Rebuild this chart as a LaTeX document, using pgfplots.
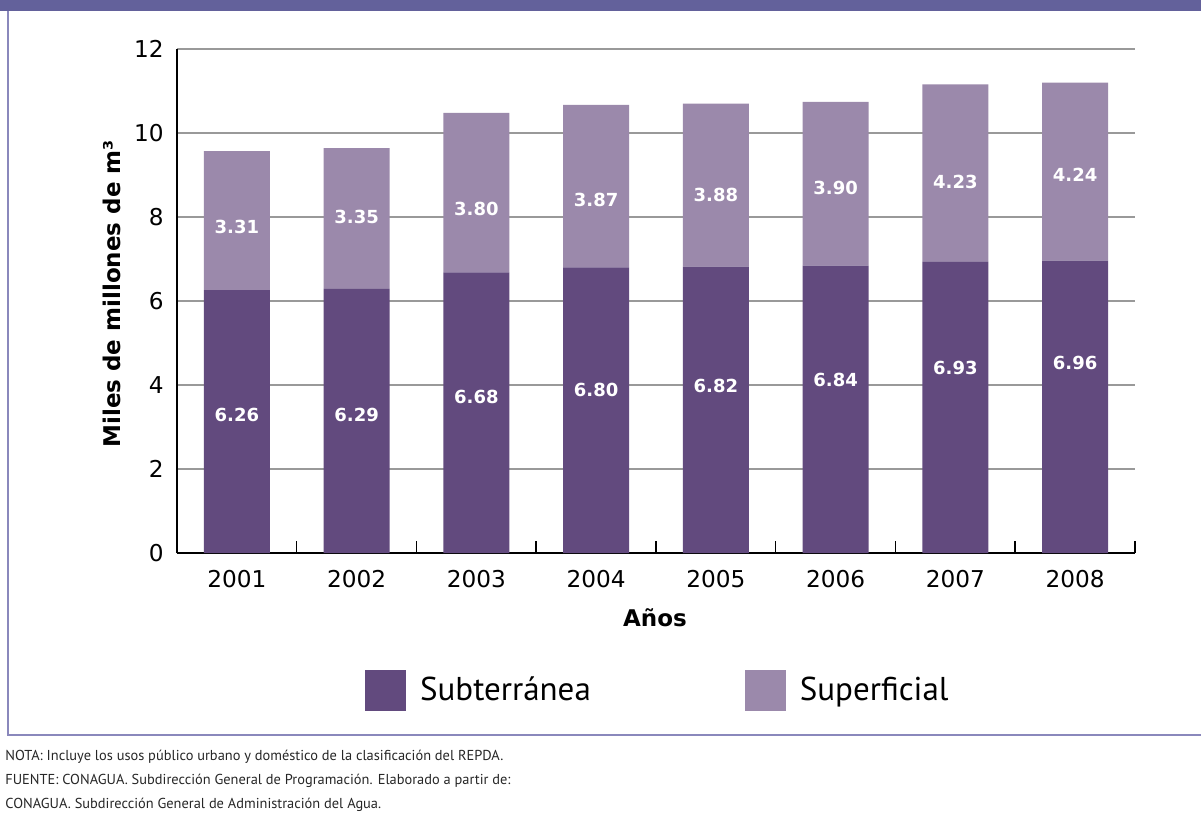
\documentclass[border=0pt]{standalone}
\usepackage{fontspec}
\setmainfont{DejaVu Sans}
\newfontfamily\ptsans{PT Sans}
\usepackage{pgfplots}
\pgfplotsset{compat=1.18}
\definecolor{dark}{HTML}{624A7E}
\definecolor{light}{HTML}{9B89AB}
\definecolor{band}{HTML}{63619B}
\definecolor{framec}{HTML}{8A88BC}
\definecolor{gridc}{HTML}{999999}
\begin{document}
\begin{tikzpicture}
\path[use as bounding box] (0,0) rectangle (600.5pt,408pt);
\fill[band] (0,402.5pt) rectangle (600.5pt,408pt);
\draw[framec, line width=0.75pt] (4pt,402.5pt) -- (4pt,40.5pt) -- (600.5pt,40.5pt);
\begin{axis}[
  at={(88.5pt,131.5pt)}, anchor=south west, scale only axis,
  width=479pt, height=252pt,
  ybar stacked, bar width=0.55,
  xmin=-0.5, xmax=7.5, ymin=0, ymax=12,
  axis x line=bottom, axis y line=left,
  axis line style={-, line width=0.75pt, black},
  xtick={0,...,7}, xticklabels={2001,2002,2003,2004,2005,2006,2007,2008},
  major x tick style={draw=none},
  minor xtick={-0.5,0.5,...,7.5},
  minor x tick style={line width=0.75pt, black},
  minor tick length=6pt, tick align=inside,
  ytick={0,2,...,12}, major y tick style={draw=none},
  ymajorgrids, grid style={line width=0.75pt, color=gridc},
  /pgf/number format/assume math mode=true,
  tick label style={font=\fontsize{11.6}{13}\selectfont},
  xticklabel style={yshift=-5.3pt},
  yticklabel style={xshift=-3.1pt},
  xlabel={\bfseries Años},
  xlabel style={at={(axis description cs:0.499,-0.129)}, anchor=center, font=\fontsize{11.5}{13}\selectfont},
  ylabel={\bfseries Miles de millones de m³},
  ylabel style={at={(axis description cs:-0.0679,0.514)}, anchor=center, font=\fontsize{11.5}{13}\selectfont},
  legend style={at={(0.503,-0.272)}, anchor=center, draw=none, fill=none,
    legend columns=2, font=\ptsans\fontsize{16.5}{19}\selectfont,
    /tikz/every odd column/.append style={column sep=5pt},
    /tikz/every even column/.append style={column sep=75pt}},
  legend image code/.code={\fill[#1] (0pt,-10.25pt) rectangle (20.5pt,10.25pt);},
]
\addplot[fill=dark, draw=none] coordinates {(0,6.26) (1,6.29) (2,6.68) (3,6.80) (4,6.82) (5,6.84) (6,6.93) (7,6.96)};
\addplot[fill=light, draw=none] coordinates {(0,3.31) (1,3.35) (2,3.80) (3,3.87) (4,3.88) (5,3.90) (6,4.23) (7,4.24)};
\addlegendentry{Subterránea}
\addlegendentry{Superficial}
\coordinate (a0) at (axis cs:0,3.286);
\coordinate (a1) at (axis cs:1,3.286);
\coordinate (a2) at (axis cs:2,3.714);
\coordinate (a3) at (axis cs:3,3.881);
\coordinate (a4) at (axis cs:4,3.976);
\coordinate (a5) at (axis cs:5,4.119);
\coordinate (a6) at (axis cs:6,4.405);
\coordinate (a7) at (axis cs:7,4.524);
\coordinate (b0) at (axis cs:0,7.762);
\coordinate (b1) at (axis cs:1,8.000);
\coordinate (b2) at (axis cs:2,8.190);
\coordinate (b3) at (axis cs:3,8.405);
\coordinate (b4) at (axis cs:4,8.524);
\coordinate (b5) at (axis cs:5,8.690);
\coordinate (b6) at (axis cs:6,8.833);
\coordinate (b7) at (axis cs:7,9.000);
\end{axis}
\begin{scope}[every node/.style={font=\bfseries\fontsize{9}{10}\selectfont, text=white}]
\node at (a0) {6.26};
\node at (a1) {6.29};
\node at (a2) {6.68};
\node at (a3) {6.80};
\node at (a4) {6.82};
\node at (a5) {6.84};
\node at (a6) {6.93};
\node at (a7) {6.96};
\node at (b0) {3.31};
\node at (b1) {3.35};
\node at (b2) {3.80};
\node at (b3) {3.87};
\node at (b4) {3.88};
\node at (b5) {3.90};
\node at (b6) {4.23};
\node at (b7) {4.24};
\end{scope}
\begin{scope}[every node/.style={anchor=base west, inner sep=0pt, text=black!85, font=\ptsans\fontsize{7.2}{10}\selectfont}]
\node at (2.5pt,28pt) {NOTA: Incluye los usos público urbano y doméstico de la clasificación del REPDA.};
\node at (2.5pt,16pt) {FUENTE: CONAGUA. Subdirección General de Programación. Elaborado a partir de:};
\node at (2.5pt,4pt) {CONAGUA. Subdirección General de Administración del Agua.};
\end{scope}
\end{tikzpicture}
\end{document}
